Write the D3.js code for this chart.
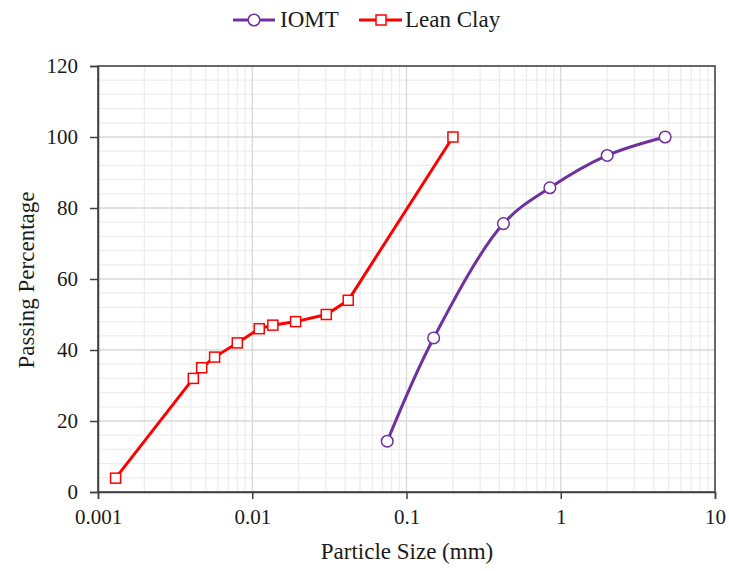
<!DOCTYPE html>
<html>
<head>
<meta charset="utf-8">
<script src="https://cdn.jsdelivr.net/npm/d3@7"></script>
<style>
  body { margin: 0; background: #fff; }
  svg text { font-family: "Liberation Serif", "DejaVu Serif", serif; fill: #1a1a1a; }
</style>
</head>
<body>
<svg id="chart" width="729" height="571"></svg>
<script>
// IOMT gradation
var iomtSize = [0.075, 0.15, 0.425, 0.85, 2, 4.75];
var iomtPass = [14.3, 43.4, 75.6, 85.7, 94.8, 100];

// Lean clay gradation
var claySize = [0.0013, 0.00415, 0.0047, 0.0057, 0.008, 0.0111, 0.0136, 0.0191, 0.0302, 0.0419, 0.2];
var clayPass = [3.9, 32, 35, 38, 42, 46, 47, 48, 50, 54, 100];

var xTicks = [0.001, 0.01, 0.1, 1, 10];
var yTicks = [0, 20, 40, 60, 80, 100, 120];

var margin = { top: 66, right: 14, bottom: 79, left: 98 };
var width = 729 - margin.left - margin.right;
var height = 571 - margin.top - margin.bottom;

var svg = d3.select("#chart");
var g = svg.append("g").attr("transform", `translate(${margin.left},${margin.top})`);

var x = d3.scaleLog().domain([0.001, 10]).range([0, width]);
var y = d3.scaleLinear().domain([0, 120]).range([height, 0]);

// minor grid
var minorX = [];
for (var d = 0.001; d < 10; d *= 10) {
  for (var k = 2; k <= 9; k++) minorX.push(d * k);
}
var minorY = d3.range(0, 121, 4).filter((v) => v % 20 != 0);

g.selectAll(".mx").data(minorX).join("line")
  .attr("x1", (d) => x(d)).attr("x2", (d) => x(d))
  .attr("y1", 0).attr("y2", height)
  .attr("stroke", "#ededed").attr("stroke-width", 1.3);
g.selectAll(".my").data(minorY).join("line")
  .attr("x1", 0).attr("x2", width)
  .attr("y1", (d) => y(d)).attr("y2", (d) => y(d))
  .attr("stroke", "#ededed").attr("stroke-width", 1.3);

// major grid
g.selectAll(".gx").data(xTicks).join("line")
  .attr("x1", (d) => x(d)).attr("x2", (d) => x(d))
  .attr("y1", 0).attr("y2", height)
  .attr("stroke", "#d9d9d9").attr("stroke-width", 1.3);
g.selectAll(".gy").data(yTicks).join("line")
  .attr("x1", 0).attr("x2", width)
  .attr("y1", (d) => y(d)).attr("y2", (d) => y(d))
  .attr("stroke", "#d9d9d9").attr("stroke-width", 1.3);

// frame
g.append("rect").attr("width", width).attr("height", height)
  .attr("fill", "none").attr("stroke", "#404040").attr("stroke-width", 1.5);

// axes
var xAxis = g.append("g").attr("transform", `translate(0,${height})`)
  .call(d3.axisBottom(x).tickValues(xTicks).tickFormat((d) => String(d)).tickSize(7).tickPadding(10));
var yAxis = g.append("g")
  .call(d3.axisLeft(y).tickValues(yTicks).tickSize(8).tickPadding(12));
[xAxis, yAxis].forEach((a) => {
  a.select(".domain").attr("stroke", "#404040").attr("stroke-width", 1.5);
  a.selectAll(".tick line").attr("stroke", "#404040").attr("stroke-width", 1.5);
  a.selectAll("text").attr("font-size", 21).attr("fill", "#1a1a1a")
    .style("font-family", '"Liberation Serif", serif');
});

// lines
var iomt = iomtSize.map((s, i) => ({ s: s, p: iomtPass[i] }));
var clay = claySize.map((s, i) => ({ s: s, p: clayPass[i] }));

g.append("path").datum(iomt)
  .attr("fill", "none").attr("stroke", "#7030a0").attr("stroke-width", 3)
  .attr("d", d3.line().x((d) => x(d.s)).y((d) => y(d.p)).curve(d3.curveCatmullRom.alpha(0.5)));

g.append("path").datum(clay)
  .attr("fill", "none").attr("stroke", "#ff0000").attr("stroke-width", 3)
  .attr("d", d3.line().x((d) => x(d.s)).y((d) => y(d.p)));

g.selectAll(".cm").data(iomt).join("circle")
  .attr("cx", (d) => x(d.s)).attr("cy", (d) => y(d.p)).attr("r", 5.8)
  .attr("fill", "#fff").attr("stroke", "#7030a0").attr("stroke-width", 1.5);

g.selectAll(".sm").data(clay).join("rect")
  .attr("x", (d) => x(d.s) - 5).attr("y", (d) => y(d.p) - 5)
  .attr("width", 10).attr("height", 10)
  .attr("fill", "#fff").attr("stroke", "#ff0000").attr("stroke-width", 1.5);

// axis titles
svg.append("text").attr("x", 407).attr("y", 559).attr("text-anchor", "middle")
  .attr("font-size", 23).text("Particle Size (mm)");
svg.append("text").attr("transform", "translate(34,280) rotate(-90)").attr("text-anchor", "middle")
  .attr("font-size", 23).text("Passing Percentage");

// legend
var leg = svg.append("g");
leg.append("line").attr("x1", 233).attr("x2", 275).attr("y1", 20).attr("y2", 20)
  .attr("stroke", "#7030a0").attr("stroke-width", 3);
leg.append("circle").attr("cx", 254).attr("cy", 20).attr("r", 5.8)
  .attr("fill", "#fff").attr("stroke", "#7030a0").attr("stroke-width", 1.5);
leg.append("text").attr("x", 280).attr("y", 27).attr("font-size", 23).text("IOMT");
leg.append("line").attr("x1", 359).attr("x2", 402).attr("y1", 20).attr("y2", 20)
  .attr("stroke", "#ff0000").attr("stroke-width", 3);
leg.append("rect").attr("x", 376).attr("y", 15).attr("width", 10).attr("height", 10)
  .attr("fill", "#fff").attr("stroke", "#ff0000").attr("stroke-width", 1.5);
leg.append("text").attr("x", 405).attr("y", 27).attr("font-size", 23).text("Lean Clay");
</script>
</body>
</html>
